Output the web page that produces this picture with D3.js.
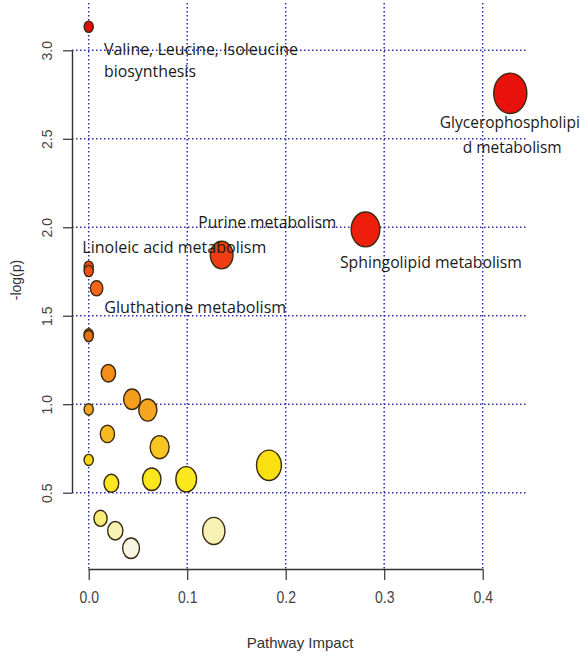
<!DOCTYPE html>
<html><head><meta charset="utf-8">
<script src="https://cdn.jsdelivr.net/npm/d3@7"></script>
<style>html,body{margin:0;padding:0;background:#fff;}svg{display:block;}</style>
</head><body>
<svg id="c" width="585" height="658"></svg>
<script>
// ---- data ----
const impact = [0, 0.428, 0.281, 0.135, 0, 0, 0.008, 0, 0, 0.020, 0.044, 0.060, 0, 0.019, 0.072, 0, 0.183, 0.023, 0.064, 0.099, 0.012, 0.027, 0.043, 0.127];
const logp   = [3.133, 2.757, 1.988, 1.843, 1.777, 1.753, 1.655, 1.395, 1.385, 1.175, 1.028, 0.967, 0.971, 0.832, 0.757, 0.685, 0.655, 0.553, 0.576, 0.576, 0.355, 0.285, 0.186, 0.284];
const xTicks = [0, 0.1, 0.2, 0.3, 0.4];
const yTicks = [0.5, 1.0, 1.5, 2.0, 2.5, 3.0];
const labelText = ["Valine, Leucine, Isoleucine", "biosynthesis", "Glycerophospholipi", "d metabolism", "Sphingolipid metabolism", "Purine metabolism", "Linoleic acid  metabolism", "Gluthatione  metabolism"];
const labelAtX = [0.0155, 0.0155, 0.3565, 0.3797, 0.2551, 0.1113, -0.0065, 0.0158];
const labelAtY = [2.973, 2.849, 2.561, 2.420, 1.770, 1.996, 1.855, 1.516];
const labelWidth = [194, 92, 140, 99, 182, 138, 184, 182];

// ---- scales ----
const svg = d3.select("#c");
const x = d3.scaleLinear().domain([0, 0.4]).range([88.7, 482.7]);
const y = d3.scaleLinear().domain([0.5, 3.0]).range([492.7, 50.3]);
const rs = d3.scalePow().exponent(0.5).domain([0, 0.43]).range([4.6, 16.6]);
const ASPECT = 1.22;
const col = d3.scaleLinear()
  .domain([0.18, 0.29, 0.36, 0.56, 0.66, 0.70, 0.84, 1.0, 1.2, 1.4, 1.66, 1.85, 2.0, 3.2])
  .range(["#f8f5e6", "#f7f1b0", "#f7ec72", "#fbe820", "#fbe010", "#f7d020", "#f6b822", "#f5a01e", "#f58a1a", "#e8700e", "#f56418", "#ef3a12", "#ee1c0c", "#e40a0a"])
  .clamp(true);

const plotL = 72, plotR = 528, plotT = 3, plotB = 569;
const gridCol = "#2e2ea6";

// grid
const g = svg.append("g");
g.selectAll(".vg").data(xTicks).join("line")
  .attr("x1", d => x(d)).attr("x2", d => x(d)).attr("y1", plotT).attr("y2", plotB)
  .attr("stroke", gridCol).attr("stroke-width", 1.5).attr("stroke-dasharray", "1.5,2.5");
g.selectAll(".hg").data(yTicks).join("line")
  .attr("x1", plotL).attr("x2", plotR).attr("y1", d => y(d)).attr("y2", d => y(d))
  .attr("stroke", gridCol).attr("stroke-width", 1.5).attr("stroke-dasharray", "1.5,2.5");

// axes
const xAxis = d3.axisBottom(x).tickValues(xTicks).tickFormat(d3.format(".1f")).tickSize(11).tickPadding(14);
const ax = svg.append("g").attr("transform", `translate(0,${plotB})`).call(xAxis);
ax.select(".domain").attr("stroke", "#333").attr("stroke-width", 1.4).attr("d", `M${x(0)},0.5H${x(0.4)}`);
ax.selectAll(".tick line").attr("stroke", "#333").attr("stroke-width", 1.2);
ax.selectAll(".tick text").attr("font-family", "Liberation Sans, Arial, sans-serif").attr("font-size", 14).attr("fill", "#444")
  .attr("transform", "scale(1,1.15)").attr("y", 20);

const yAxis = d3.axisLeft(y).tickValues(yTicks).tickFormat(d3.format(".1f")).tickSize(9).tickPadding(8);
const ay = svg.append("g").attr("transform", `translate(${plotL},0)`).call(yAxis);
ay.select(".domain").attr("stroke", "#333").attr("stroke-width", 1.4).attr("d", `M0.5,${y(3)}V${y(0.5)}`);
ay.selectAll(".tick line").attr("stroke", "#333").attr("stroke-width", 1.2);
ay.selectAll(".tick text").attr("font-family", "Liberation Sans, Arial, sans-serif").attr("font-size", 14).attr("fill", "#444")
  .attr("text-anchor", "middle").attr("dy", null).attr("x", null)
  .attr("transform", "translate(-25,0) rotate(-90)").attr("dy", "0.35em");

// axis titles
svg.append("text").attr("x", 300).attr("y", 648).attr("text-anchor", "middle")
  .attr("font-family", "Liberation Sans, Arial, sans-serif").attr("font-size", 15).attr("fill", "#333")
  .text("Pathway Impact");
svg.append("text").attr("transform", "translate(21,280) rotate(-90)").attr("text-anchor", "middle")
  .attr("font-family", "Liberation Sans, Arial, sans-serif").attr("font-size", 14).attr("fill", "#333")
  .text("-log(p)");

// bubbles: draw larger first
const pts = impact.map((v, i) => ({ix: v, lp: logp[i]})).sort((a, b) => rs(b.ix) - rs(a.ix));
svg.append("g").selectAll("ellipse").data(pts).join("ellipse")
  .attr("cx", d => x(d.ix)).attr("cy", d => y(d.lp))
  .attr("rx", d => rs(d.ix)).attr("ry", d => rs(d.ix) * ASPECT)
  .attr("fill", d => col(d.lp)).attr("stroke", "#3a2a10").attr("stroke-width", 1.4);

// labels
svg.append("g").selectAll("text").data(labelText).join("text")
  .attr("x", (d, i) => x(labelAtX[i])).attr("y", (d, i) => y(labelAtY[i]))
  .attr("font-family", "Open Sans, Noto Sans, sans-serif").attr("font-size", 16).attr("fill", "#1a1a1a")
  .attr("textLength", (d, i) => labelWidth[i]).attr("lengthAdjust", "spacingAndGlyphs")
  .text(d => d);
</script>
</body></html>
